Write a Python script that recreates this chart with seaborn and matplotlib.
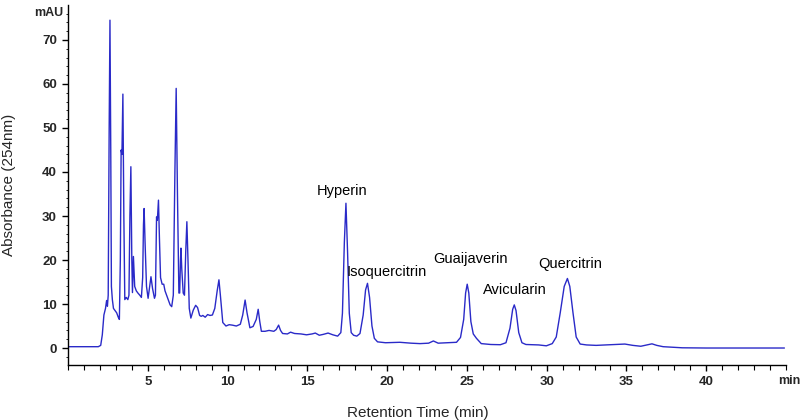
import matplotlib
matplotlib.use("Agg")
import matplotlib.pyplot as plt
from matplotlib.ticker import MultipleLocator
import seaborn as sns
import pandas as pd

# Retention time (min) and absorbance (mAU)
time_min = [
    0.0, 1.9, 2.05, 2.15, 2.25, 2.35, 2.42, 2.47, 2.52, 2.58, 2.63, 2.68, 2.72, 2.78,
    2.85, 2.95, 3.05, 3.15, 3.22, 3.28, 3.33, 3.38, 3.44, 3.5, 3.56, 3.65, 3.75, 3.82,
    3.88, 3.94, 4.0, 4.04, 4.1, 4.18, 4.28, 4.38, 4.5, 4.6, 4.68, 4.73, 4.77, 4.83,
    4.92, 5.02, 5.12, 5.2, 5.3, 5.42, 5.48, 5.55, 5.6, 5.67, 5.73, 5.8, 5.9, 6.0,
    6.08, 6.18, 6.28, 6.4, 6.5, 6.6, 6.7, 6.78, 6.86, 6.95, 7.0, 7.05, 7.08, 7.13,
    7.22, 7.3, 7.38, 7.45, 7.52, 7.6, 7.7, 7.85, 8.0, 8.12, 8.25, 8.35, 8.45, 8.6,
    8.75, 8.9, 9.05, 9.2, 9.35, 9.46, 9.55, 9.7, 9.9, 10.1, 10.3, 10.55, 10.8, 10.95,
    11.1, 11.22, 11.4, 11.6, 11.8, 11.92, 12.02, 12.12, 12.35, 12.6, 12.9, 13.05, 13.2,
    13.32, 13.45, 13.75, 13.95, 14.2, 14.6, 14.95, 15.3, 15.5, 15.75, 16.0, 16.3, 16.6,
    16.9, 17.1, 17.2, 17.32, 17.42, 17.52, 17.63, 17.75, 17.9, 18.1, 18.3, 18.5, 18.65,
    18.77, 18.9, 19.05, 19.2, 19.4, 19.9, 20.8, 21.5, 22.06, 22.6, 22.9, 23.2, 23.8,
    24.35, 24.6, 24.8, 24.92, 25.02, 25.12, 25.25, 25.4, 25.6, 25.9, 26.5, 27.1, 27.45,
    27.7, 27.87, 27.97, 28.08, 28.25, 28.45, 28.7, 29.5, 29.98, 30.35, 30.6, 30.85,
    31.1, 31.3, 31.45, 31.65, 31.85, 32.1, 32.5, 33.1, 33.7, 34.2, 34.9, 35.4, 35.9,
    36.3, 36.6, 36.9, 37.3, 38.5, 40.0, 44.9,
]
absorbance = [
    0.3, 0.3, 0.6, 3.0, 7.5, 9.0, 10.8, 9.5, 12.0, 50.0, 74.5, 45.0, 14.0, 11.0,
    9.0, 8.5, 8.0, 7.0, 6.5, 20.0, 45.0, 44.0, 57.7, 30.0, 11.0, 11.5, 11.0, 12.0,
    30.0, 41.2, 20.0, 12.6, 20.8, 14.0, 13.0, 12.5, 12.0, 11.5, 16.0, 28.0, 31.7, 24.0,
    14.0, 11.3, 14.0, 16.2, 13.5, 11.3, 12.0, 29.8, 29.0, 33.6, 25.0, 16.0, 14.5, 14.5,
    13.0, 12.0, 11.0, 9.8, 9.4, 12.0, 40.0, 59.0, 35.0, 12.5, 12.5, 20.0, 22.7, 18.0,
    12.5, 12.0, 22.0, 28.7, 20.0, 9.0, 6.8, 8.6, 9.7, 9.2, 7.4, 7.2, 7.4, 7.0,
    7.6, 7.4, 7.5, 9.0, 13.0, 15.5, 12.0, 5.8, 5.0, 5.3, 5.2, 5.0, 5.4, 7.5,
    10.9, 8.0, 4.6, 4.9, 6.5, 8.8, 6.0, 3.8, 3.8, 4.0, 3.8, 4.2, 5.2,
    4.0, 3.3, 3.2, 3.6, 3.3, 3.2, 3.0, 3.2, 3.4, 2.9, 3.1, 3.4, 3.0,
    2.7, 3.5, 7.9, 24.0, 32.9, 22.0, 7.9, 3.5, 2.9, 2.7, 3.3, 7.5, 13.2,
    14.7, 11.5, 5.0, 2.2, 1.4, 1.2, 1.3, 1.1, 1.0, 1.1, 1.6, 1.1, 1.2,
    1.3, 2.4, 6.5, 12.5, 14.5, 12.5, 6.0, 3.2, 2.2, 1.0, 0.8, 0.75, 1.2,
    4.5, 8.8, 9.8, 8.5, 3.5, 1.2, 0.8, 0.7, 0.5, 1.0, 2.5, 8.0,
    14.0, 15.8, 14.0, 8.0, 2.5, 0.9, 0.7, 0.6, 0.7, 0.8, 0.9, 0.6, 0.4,
    0.7, 0.95, 0.6, 0.3, 0.05, 0.0, 0.0,
]

# Peak annotations
peak_names = ["Hyperin", "Isoquercitrin", "Guaijaverin", "Avicularin", "Quercitrin"]
label_x = [17.2, 20.0, 25.2, 28.0, 31.5]
label_y = [35.7, 17.3, 20.2, 13.2, 19.0]

x_ticks = [5, 10, 15, 20, 25, 30, 35, 40]
y_ticks = [0, 10, 20, 30, 40, 50, 60, 70]

sns.set_style("white")
plt.rcParams["font.family"] = ["Liberation Sans", "DejaVu Sans"]

df = pd.DataFrame({"time": time_min, "abs": absorbance})

fig = plt.figure(figsize=(8.04, 4.20), dpi=100)
ax = fig.add_axes([68 / 804, 1 - 365 / 420, 718 / 804, 360 / 420])

sns.lineplot(data=df, x="time", y="abs", ax=ax, color="#2a2ac8", linewidth=1.0,
             sort=False, estimator=None)

ax.set_xlim(0, 45)
ax.set_ylim(-3.86, 77.95)

for s in ["top", "right"]:
    ax.spines[s].set_visible(False)
for s in ["left", "bottom"]:
    ax.spines[s].set_color("black")
    ax.spines[s].set_linewidth(1.0)

ax.set_xticks(x_ticks)
ax.set_yticks(y_ticks)
ax.xaxis.set_minor_locator(MultipleLocator(1))
ax.yaxis.set_minor_locator(MultipleLocator(2))
ax.tick_params(axis="both", which="major", direction="out", length=4, width=1,
               color="black", labelsize=9.5, pad=4)
ax.tick_params(axis="x", which="minor", direction="out", length=3.5, width=0.8,
               color="black")
ax.tick_params(axis="y", which="minor", direction="out", length=1.5, width=0.6,
               color="black")
ax.tick_params(axis="both", which="both", bottom=True, left=True)
for lab in ax.get_xticklabels() + ax.get_yticklabels():
    lab.set_fontweight("bold")

ax.set_xlabel("Retention Time (min)", fontsize=11)
ax.set_ylabel("Absorbance (254nm)", fontsize=11)
ax.xaxis.set_label_coords(0.487, -0.115)
ax.yaxis.set_label_coords(-0.072, 0.5)

fig.text(63 / 804, 1 - 13 / 420, "mAU", ha="right", va="center", fontsize=9,
         fontweight="bold")
fig.text(800 / 804, 1 - 381 / 420, "min", ha="right", va="center", fontsize=9,
         fontweight="bold")

for name, lx, ly in zip(peak_names, label_x, label_y):
    ax.text(lx, ly, name, ha="center", va="center", fontsize=10.5, color="black")

fig.savefig("out.png", dpi=100)
